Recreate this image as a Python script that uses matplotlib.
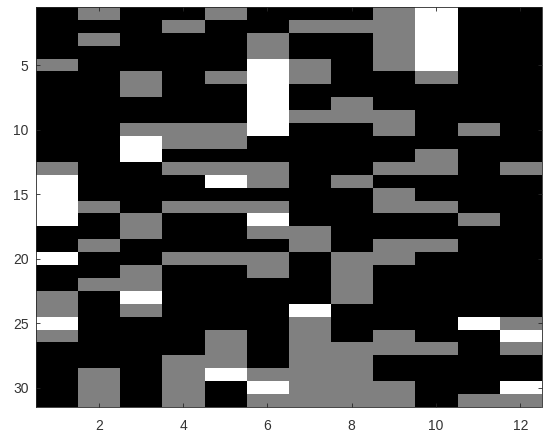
import numpy as np
import matplotlib
matplotlib.use("Agg")
import matplotlib.pyplot as plt

plt.rcParams["font.family"] = ["Liberation Sans", "DejaVu Sans"]
plt.rcParams["font.size"] = 10

# cell codes: 0 = black, 1 = gray, 2 = white
levels = [0.0, 0.5, 1.0]
grid_codes = [
    [0, 1, 0, 0, 1, 0, 0, 0, 1, 2, 0, 0],  # 1
    [0, 0, 0, 1, 0, 0, 1, 1, 1, 2, 0, 0],
    [0, 1, 0, 0, 0, 1, 0, 0, 1, 2, 0, 0],
    [0, 0, 0, 0, 0, 1, 0, 0, 1, 2, 0, 0],
    [1, 0, 0, 0, 0, 2, 1, 0, 1, 2, 0, 0],  # 5
    [0, 0, 1, 0, 1, 2, 1, 0, 0, 1, 0, 0],
    [0, 0, 1, 0, 0, 2, 0, 0, 0, 0, 0, 0],
    [0, 0, 0, 0, 0, 2, 0, 1, 0, 0, 0, 0],
    [0, 0, 0, 0, 0, 2, 1, 1, 1, 0, 0, 0],
    [0, 0, 1, 1, 1, 2, 0, 0, 1, 0, 1, 0],  # 10
    [0, 0, 2, 1, 1, 0, 0, 0, 0, 0, 0, 0],
    [0, 0, 2, 0, 0, 0, 0, 0, 0, 1, 0, 0],
    [1, 0, 0, 1, 1, 1, 0, 0, 1, 1, 0, 1],
    [2, 0, 0, 0, 2, 1, 0, 1, 0, 0, 0, 0],
    [2, 0, 0, 0, 0, 0, 0, 0, 1, 0, 0, 0],  # 15
    [2, 1, 0, 1, 1, 1, 0, 0, 1, 1, 0, 0],
    [2, 0, 1, 0, 0, 2, 0, 0, 0, 0, 1, 0],
    [0, 0, 1, 0, 0, 1, 1, 0, 0, 0, 0, 0],
    [0, 1, 0, 0, 0, 0, 1, 0, 1, 1, 0, 0],
    [2, 0, 0, 1, 1, 1, 0, 1, 1, 0, 0, 0],  # 20
    [0, 0, 1, 0, 0, 1, 0, 1, 0, 0, 0, 0],
    [0, 1, 1, 0, 0, 0, 0, 1, 0, 0, 0, 0],
    [1, 0, 2, 0, 0, 0, 0, 1, 0, 0, 0, 0],
    [1, 0, 1, 0, 0, 0, 2, 0, 0, 0, 0, 0],
    [2, 0, 0, 0, 0, 0, 1, 0, 0, 0, 2, 1],  # 25
    [1, 0, 0, 0, 1, 0, 1, 0, 1, 0, 0, 2],
    [0, 0, 0, 0, 1, 0, 1, 1, 1, 1, 0, 1],
    [0, 0, 0, 1, 1, 0, 1, 1, 0, 0, 0, 0],
    [0, 1, 0, 1, 2, 1, 1, 1, 0, 0, 0, 0],
    [0, 1, 0, 1, 0, 2, 1, 1, 1, 0, 0, 2],  # 30
    [0, 1, 0, 1, 0, 1, 1, 1, 1, 0, 1, 1],
]
x_ticks = [2, 4, 6, 8, 10, 12]
y_ticks = [5, 10, 15, 20, 25, 30]

values = np.array(levels)[np.array(grid_codes)]
n_rows, n_cols = values.shape

fig = plt.figure(figsize=(5.5, 4.43), dpi=100)
ax = fig.add_axes([35.5 / 550, 36 / 443, 506 / 550, 400 / 443])
ax.imshow(values, cmap="gray", vmin=0, vmax=1, aspect="auto",
          interpolation="nearest",
          extent=[0.5, n_cols + 0.5, n_rows + 0.5, 0.5])

ax.set_xticks(x_ticks)
ax.set_yticks(y_ticks)
ax.tick_params(direction="in", length=3, width=0.6, colors="#262626",
               top=True, right=True, labelcolor="#333333")
ax.tick_params(axis="x", pad=9)
ax.tick_params(axis="y", pad=5)
for s in ax.spines.values():
    s.set_color("#262626")
    s.set_linewidth(0.6)

fig.savefig("out.png", dpi=100)
